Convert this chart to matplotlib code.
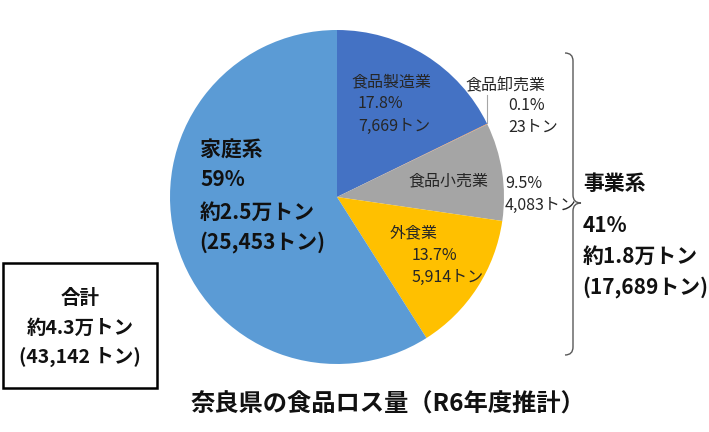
import matplotlib.pyplot as plt
from matplotlib.path import Path
from matplotlib.patches import PathPatch, Rectangle

plt.rcParams['font.family'] = ['Noto Sans CJK JP', 'DejaVu Sans']

# データ
sectors = ['食品製造業', '食品卸売業', '食品小売業', '外食業', '家庭系']
tons = [7669, 23, 4083, 5914, 25453]
shares = ['17.8%', '0.1%', '9.5%', '13.7%', '59%']
colors = ['#4472C4', '#ED7D31', '#A5A5A5', '#FFC000', '#5B9BD5']

business_tons = 17689
business_share = '41%'
total_tons = 43142
title = '奈良県の食品ロス量（R6年度推計）'

W, H = 709, 432


def Y(y):
    # 画像の上からの座標 -> 下からの座標
    return H - y


def man(t):
    return '約{:.1f}万トン'.format(t / 10000)


fig = plt.figure(figsize=(W / 100, H / 100), dpi=100)
ax = fig.add_axes([0, 0, 1, 1])

ax.pie(tons, colors=colors, startangle=90, counterclock=False,
       center=(337, Y(197)), radius=167, wedgeprops=dict(linewidth=0))
ax.set_xlim(0, W)
ax.set_ylim(0, H)
ax.set_aspect('equal')
ax.axis('off')

small = dict(fontsize=11.5, color='#262626', ha='left', va='center')

# 食品製造業
ax.text(351, Y(82), sectors[0], **small)
ax.text(358, Y(103), shares[0], **small)
ax.text(358, Y(126), '{:,}トン'.format(tons[0]), **small)

# 食品卸売業
ax.text(465, Y(85), sectors[1], **small)
ax.text(508, Y(106), shares[1], **small)
ax.text(508, Y(127), '{:,}トン'.format(tons[1]), **small)
ax.plot([487, 487], [Y(95), Y(123)], color='#A6A6A6', lw=0.8)

# 食品小売業
ax.text(408, Y(181), sectors[2], **small)
ax.text(505, Y(183), shares[2], **small)
ax.text(505, Y(205), '{:,}トン'.format(tons[2]), **small)

# 外食業
ax.text(390, Y(233), sectors[3], **small)
ax.text(412, Y(255), shares[3], **small)
ax.text(412, Y(277), '{:,}トン'.format(tons[3]), **small)

# 家庭系
big = dict(fontsize=15, fontweight='bold', color='#111111', ha='left', va='center')
ax.text(200, Y(150), sectors[4], **big)
ax.text(200, Y(180), shares[4], **big)
ax.text(200, Y(212), man(tons[4]), **big)
ax.text(199, Y(242), '({:,}トン)'.format(tons[4]), **big)

# 事業系
ax.text(583, Y(184), '事業系', **big)
ax.text(583, Y(226), business_share, **big)
ax.text(583, Y(256), man(business_tons), **big)
ax.text(582, Y(287), '({:,}トン)'.format(business_tons), **big)

# かっこ
verts = [(565, 53), (573, 53), (573, 61), (573, 195), (573, 203), (581, 203),
         (573, 203), (573, 211), (573, 347), (573, 355), (565, 355)]
codes = [Path.MOVETO, Path.CURVE3, Path.CURVE3, Path.LINETO, Path.CURVE3, Path.CURVE3,
         Path.CURVE3, Path.CURVE3, Path.LINETO, Path.CURVE3, Path.CURVE3]
brace = Path([(x, Y(y)) for x, y in verts], codes)
ax.add_patch(PathPatch(brace, facecolor='none', edgecolor='#595959', lw=1))

# 合計
ax.add_patch(Rectangle((3, Y(388)), 154, 125, facecolor='none', edgecolor='black', lw=1.8))
box = dict(fontsize=14, fontweight='bold', color='#111111', ha='center', va='center')
ax.text(80, Y(298), '合計', **box)
ax.text(80, Y(328), man(total_tons), **box)
ax.text(80, Y(357), '({:,} トン)'.format(total_tons), **box)

ax.text(388, Y(405), title, fontsize=17.5, fontweight='bold', color='#111111',
        ha='center', va='center')

fig.savefig('out.png', dpi=100)
